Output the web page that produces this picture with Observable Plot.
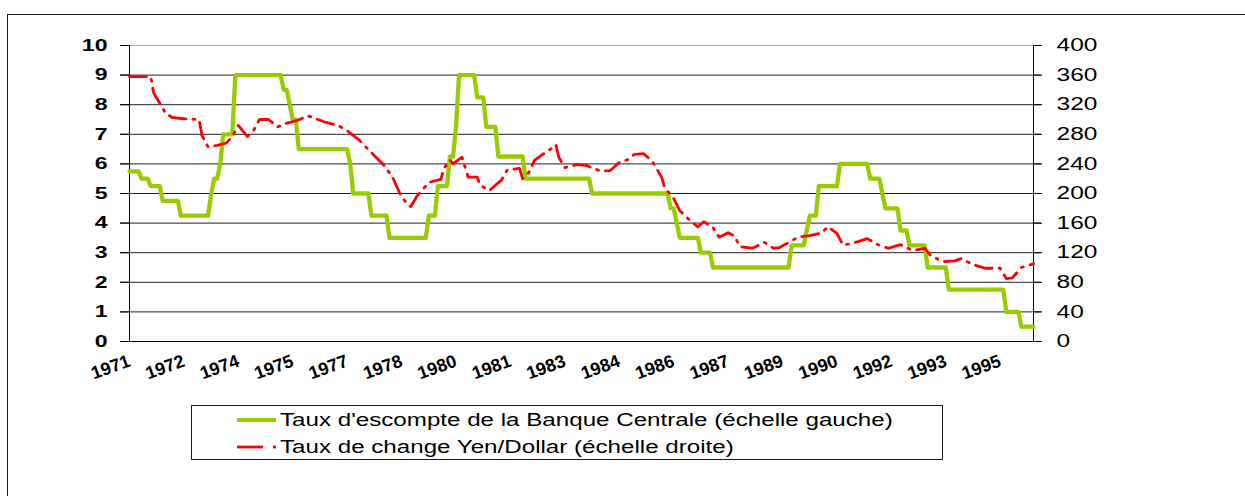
<!DOCTYPE html>
<html><head><meta charset="utf-8">
<script src="https://cdn.jsdelivr.net/npm/d3@7"></script>
<script src="https://cdn.jsdelivr.net/npm/@observablehq/plot@0.6"></script>
<style>
html,body{margin:0;padding:0;background:#fff;width:1245px;height:496px;overflow:hidden;position:relative;font-family:Arial,"Liberation Sans",sans-serif;}
#frame{position:absolute;left:7px;top:14px;width:1270px;height:520px;border:1px solid #1a1a1a;box-sizing:border-box;}
#chart{position:absolute;left:0;top:0;}
#legend{position:absolute;left:191px;top:405px;width:752px;height:55px;border:1px solid #1a1a1a;box-sizing:border-box;background:#fff;}
#legend svg{position:absolute;left:0;top:0;}
.lbl{position:absolute;left:88px;font-size:17.5px;line-height:20px;transform-origin:0 50%;transform:scaleX(1.38);white-space:nowrap;color:#000;}
</style></head><body>
<div id="frame"></div>
<div id="chart"></div>
<div id="legend">
  <svg width="120" height="55">
    <line x1="45" x2="84" y1="14" y2="14" stroke="#99CC00" stroke-width="4"/>
    <line x1="45" x2="71" y1="41" y2="41" stroke="#FF0000" stroke-width="2.8"/>
    <line x1="81" x2="84" y1="41" y2="41" stroke="#FF0000" stroke-width="2.8"/>
  </svg>
  <div class="lbl" style="top:4px">Taux d'escompte de la Banque Centrale (échelle gauche)</div>
  <div class="lbl" style="top:31px">Taux de change Yen/Dollar (échelle droite)</div>
</div>
<script>
// ---- Data ----
// Discount rate of the Bank of Japan (%): month at which each new level is reached
const rateDates = ["1971-01","1971-05","1971-08","1971-12","1972-06","1973-04","1973-05","1973-07","1973-08","1973-12",
  "1975-04","1975-06","1975-07","1975-09","1977-02","1977-03","1977-09","1978-03","1979-04","1979-07","1979-11",
  "1980-01","1980-02","1980-08","1980-11","1981-03","1981-12","1983-10","1985-12","1986-02","1986-03","1986-10",
  "1987-02","1989-04","1989-09","1989-10","1990-01","1990-08","1991-06","1991-10","1991-11","1992-04","1992-07",
  "1993-01","1993-08","1995-03","1995-08"];
const rateValues = [5.75,5.5,5.25,4.75,4.25,5.0,5.5,6.0,7.0,9.0,
  8.5,8.0,7.5,6.5,6.0,5.0,4.25,3.5,4.25,5.25,6.25,
  7.25,9.0,8.25,7.25,6.25,5.5,5.0,4.5,4.0,3.5,3.0,
  2.5,3.25,3.75,4.25,5.25,6.0,5.5,5.0,4.5,3.75,3.25,
  2.5,1.75,1.0,0.5];
const lastMonth = "1995-12";

// Yen / Dollar exchange rate
const fxDates = ["1971-01","1971-08","1971-09","1971-11","1972-01","1972-03","1972-07","1972-12","1973-01","1973-03",
  "1973-06","1973-09","1973-11","1974-01","1974-04","1974-06","1974-08","1974-11","1975-02","1975-04","1975-08",
  "1975-12","1976-06","1976-10","1977-01","1977-05","1977-10","1978-01","1978-04","1978-07","1978-10","1978-12",
  "1979-04","1979-08","1979-09","1979-11","1979-12","1980-03","1980-05","1980-08","1980-09","1980-12","1981-04",
  "1981-06","1981-10","1981-11","1982-01","1982-03","1982-05","1982-09","1982-10","1982-11","1983-01","1983-05",
  "1983-08","1984-01","1984-04","1984-07","1984-10","1984-12","1985-03","1985-06","1985-09","1985-10","1986-01",
  "1986-03","1986-06","1986-09","1986-11","1987-02","1987-04","1987-07","1987-09","1987-11","1988-03","1988-07",
  "1988-10","1988-12","1989-04","1989-06","1989-10","1990-02","1990-04","1990-07","1990-09","1990-11","1991-02",
  "1991-05","1991-09","1991-12","1992-04","1992-08","1992-12","1993-02","1993-06","1993-10","1993-12","1994-04",
  "1994-08","1995-01","1995-03","1995-05","1995-08","1995-12"];
const fxValues = [358,358,336,322,308,303,301,300,278,263,
  265,268,277,292,277,285,300,300,290,294,298,
  305,296,292,285,272,251,239,222,195,182,196,
  215,219,234,245,240,249,222,222,211,204,218,
  232,234,220,228,245,251,262,266,249,235,239,
  238,230,231,242,246,253,254,243,222,208,193,
  177,165,155,162,154,141,147,143,128,126,134,
  126,127,136,141,143,147,155,146,130,132,135,
  139,130,126,131,123,126,116,108,109,112,104,
  99,99,85,86,100,105];

const xTickDates = ["1971-01","1972-07","1974-01","1975-07","1977-01","1978-07","1980-01","1981-07","1983-01",
  "1984-07","1986-01","1987-07","1989-01","1990-07","1992-01","1993-07","1995-01"];
const xTickLabels = ["1971","1972","1974","1975","1977","1978","1980","1981","1983",
  "1984","1986","1987","1989","1990","1992","1993","1995"];
const leftTicks = [0,1,2,3,4,5,6,7,8,9,10];
const rightTicks = [0,40,80,120,160,200,240,280,320,360,400];
const leftMax = 10, rightMax = 400;

// ---- Build tables ----
const mi = s => { const [y, m] = s.split("-").map(Number); return (y - 1971) * 12 + (m - 1); };
const rateLine = [];
rateDates.forEach((d, i) => {
  const m = mi(d);
  if (i > 0) rateLine.push({m: m - 1, v: rateValues[i - 1]});
  rateLine.push({m, v: rateValues[i]});
});
rateLine.push({m: mi(lastMonth), v: rateValues[rateValues.length - 1]});
const fxLine = fxDates.map((d, i) => ({m: mi(d), v: fxValues[i]}));
const k = rightMax / leftMax;

const chart = Plot.plot({
  width: 1245, height: 390,
  marginLeft: 129, marginRight: 212, marginTop: 45, marginBottom: 49,
  x: {type: "linear", domain: [0, mi(lastMonth)], label: null},
  y: {domain: [0, leftMax], label: null},
  style: {fontFamily: "Arial, 'Liberation Sans', sans-serif", background: "transparent", color: "#000", overflow: "visible"},
  marks: [
    Plot.ruleY(leftTicks.filter(t => t > 0 && t < leftMax), {stroke: "#1e1e1e", strokeWidth: 1, strokeOpacity: 1, insetLeft: -9, insetRight: -8}),
    Plot.ruleY([leftMax], {stroke: "#a8a8a8", strokeWidth: 1, strokeOpacity: 1}),
    Plot.ruleY([0], {stroke: "#000", strokeWidth: 1, strokeOpacity: 1, insetLeft: -9, insetRight: -8}),
    Plot.ruleX([0, mi(lastMonth)], {stroke: "#000", strokeWidth: 1, strokeOpacity: 1}),
    Plot.axisY({anchor: "left", label: null, ticks: leftTicks, tickFormat: d => String(d), tickSize: 9, tickPadding: 13, fontSize: 16.5, fontWeight: "bold", stroke: "#000"}),
    Plot.axisY({anchor: "right", label: null, ticks: rightTicks.map(r => r / k), tickFormat: (d, i) => String(rightTicks[i]), tickSize: 8, tickPadding: 15, fontSize: 17.5}),
    Plot.axisX({label: null, ticks: xTickDates.map(mi), tickFormat: (d, i) => xTickLabels[i], tickSize: 0, tickPadding: 19, tickRotate: -20, fontSize: 18, fontWeight: "bold"}),
    Plot.line(rateLine, {x: "m", y: "v", stroke: "#99CC00", strokeWidth: 4.3, strokeLinejoin: "round"}),
    Plot.line(fxLine, {x: "m", y: d => d.v / k, stroke: "#FF0000", strokeWidth: 2.8, strokeDasharray: "17,7,2,7", strokeLinejoin: "round"})
  ]
});
document.getElementById("chart").appendChild(chart);

// widen the horizontal tick labels like in the reference
function stretch(selector, f) {
  chart.querySelectorAll(selector).forEach(t => {
    const L = t.getComputedTextLength();
    t.setAttribute("textLength", L * f);
    t.setAttribute("lengthAdjust", "spacingAndGlyphs");
  });
}
stretch('g[aria-label="y-axis tick label"] text', 1.4);
</script>
</body></html>
